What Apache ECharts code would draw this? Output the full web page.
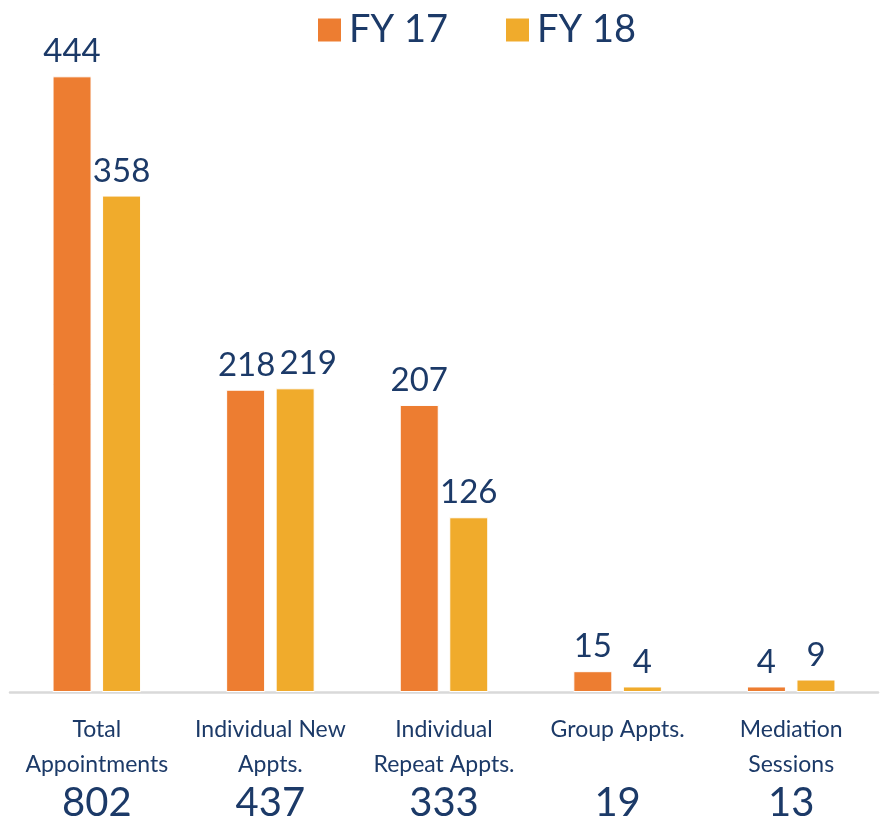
<!DOCTYPE html>
<html>
  <head>
    <meta charset="utf-8">
    <script src="https://cdn.jsdelivr.net/npm/echarts@6/dist/echarts.min.js"></script>
    <style>
      html, body { margin: 0; padding: 0; background: #fff; }
      #chart { width: 886px; height: 824px; }
    </style>
  </head>
  <body>
    <div id="chart"></div>
    <script>
      var categories = ['Total Appointments', 'Individual New Appts.', 'Individual Repeat Appts.', 'Group Appts.', 'Mediation Sessions'];
      // how each category label is broken over two lines
      var labelLines = [
        ['Total', 'Appointments'],
        ['Individual New', 'Appts.'],
        ['Individual', 'Repeat Appts.'],
        ['Group Appts.', ' '],
        ['Mediation', 'Sessions']
      ];
      var totals = [802, 437, 333, 19, 13];
      var fy17 = [444, 218, 207, 15, 4];
      var fy18 = [358, 219, 126, 4, 9];

      var navy = '#1c3a68';
      var font = 'Lato, "Open Sans", sans-serif';

      // the 218 / 219 labels sit side by side, nudge them apart a little
      function withNudge(arr, idx, dx) {
        return arr.map(function (v, i) {
          return i === idx ? { value: v, label: { offset: [dx, 0] } } : v;
        });
      }

      var chart = echarts.init(document.getElementById('chart'));
      var option = {
        animation: false,
        textStyle: { fontFamily: font },
        legend: {
          top: 6,
          left: 311,
          itemWidth: 25,
          itemHeight: 25,
          itemGap: 56,
          icon: 'rect',
          textStyle: { fontSize: 38, color: navy, fontFamily: font, padding: [0, 0, 0, 2] },
          data: ['FY 17', 'FY 18']
        },
        grid: { left: 10, right: 8, top: 68, bottom: 132 },
        xAxis: {
          type: 'category',
          data: categories,
          axisLine: { lineStyle: { color: '#d9d9d9', width: 2.5 } },
          axisTick: { show: false },
          axisLabel: {
            interval: 0,
            margin: 20,
            formatter: function (v, i) {
              return '{n|' + labelLines[i][0] + '}\n{n|' + labelLines[i][1] + '}\n{t|' + totals[i] + '}';
            },
            rich: {
              n: { fontSize: 23, lineHeight: 35, color: navy, fontFamily: font },
              t: { fontSize: 40, lineHeight: 42, color: navy, fontFamily: font }
            }
          }
        },
        yAxis: {
          type: 'value',
          min: 0,
          max: 450,
          show: false,
          splitLine: { show: false }
        },
        series: [
          {
            name: 'FY 17',
            type: 'bar',
            data: withNudge(fy17, 1, 1),
            barWidth: 39,
            barGap: '27%',
            itemStyle: { color: '#ed7d31', borderColor: '#fff', borderWidth: 1 },
            label: { show: true, position: 'top', distance: 8, fontSize: 33, color: navy, fontFamily: font }
          },
          {
            name: 'FY 18',
            type: 'bar',
            data: withNudge(fy18, 1, 13),
            barWidth: 39,
            itemStyle: { color: '#f0ab2c', borderColor: '#fff', borderWidth: 1 },
            label: { show: true, position: 'top', distance: 8, fontSize: 33, color: navy, fontFamily: font }
          }
        ]
      };
      chart.setOption(option);
    </script>
  </body>
</html>
